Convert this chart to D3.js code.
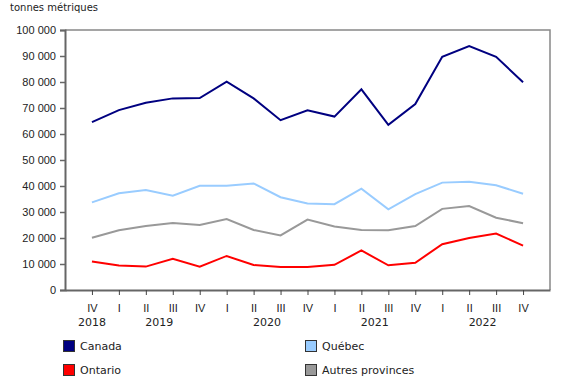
<!DOCTYPE html>
<html>
<head>
<meta charset="utf-8">
<script src="https://cdn.jsdelivr.net/npm/d3@7"></script>
<style>
  body { margin: 0; background: #fff; }
  svg { font-family: "DejaVu Sans", Verdana, sans-serif; }
</style>
</head>
<body>
<div id="chart"></div>
<script>
const quarters = ["IV", "I", "II", "III", "IV", "I", "II", "III", "IV", "I", "II", "III", "IV", "I", "II", "III", "IV"];
const years = [
  { label: "2018", from: 0, to: 0 },
  { label: "2019", from: 1, to: 4 },
  { label: "2020", from: 5, to: 8 },
  { label: "2021", from: 9, to: 12 },
  { label: "2022", from: 13, to: 16 }
];
const canada = [64600, 69200, 72000, 73700, 73800, 80100, 73700, 65300, 69100, 66700, 77200, 63500, 71500, 89700, 93800, 89700, 79900];
const quebec = [33700, 37200, 38500, 36300, 40100, 40100, 41000, 35700, 33300, 33000, 39000, 31000, 36900, 41300, 41600, 40300, 37000];
const ontario = [11000, 9400, 9000, 12000, 9000, 13100, 9600, 8800, 8800, 9700, 15200, 9500, 10500, 17600, 20000, 21700, 17100];
const autres = [20100, 23000, 24600, 25800, 25000, 27300, 23100, 21000, 27100, 24400, 23100, 23000, 24600, 31200, 32300, 27800, 25700];
const yTicks = d3.range(0, 100001, 10000);

const series = [
  { name: "Canada", values: canada, color: "#000080" },
  { name: "Québec", values: quebec, color: "#99ccff" },
  { name: "Ontario", values: ontario, color: "#ff0000" },
  { name: "Autres provinces", values: autres, color: "#999999" }
];

const width = 580, height = 385;
const plotLeft = 65, plotRight = 550, plotTop = 30, plotBottom = 290;

const svg = d3.select("#chart").append("svg")
  .attr("width", width)
  .attr("height", height);

const x = d3.scalePoint()
  .domain(d3.range(quarters.length))
  .range([plotLeft, plotRight])
  .padding(1);

const y = d3.scaleLinear()
  .domain([0, 100000])
  .range([plotBottom, plotTop]);

const fmt = v => d3.format(",")(v).replace(/,/g, " ");

// unit label
svg.append("text")
  .attr("x", 10)
  .attr("y", 11)
  .attr("font-size", 10)
  .attr("fill", "#222")
  .text("tonnes métriques");

// frame top / right
svg.append("path")
  .attr("d", `M${plotLeft},${plotTop}H${plotRight}V${plotBottom}`)
  .attr("fill", "none")
  .attr("stroke", "#888")
  .attr("stroke-width", 1.5);

// y axis
const yAxis = svg.append("g")
  .attr("transform", `translate(${plotLeft},0)`)
  .call(d3.axisLeft(y).tickValues(yTicks).tickFormat(fmt).tickSize(5).tickPadding(4));
yAxis.select(".domain").attr("stroke", "#666").attr("stroke-width", 2);
yAxis.selectAll(".tick line").attr("stroke", "#666").attr("stroke-width", 1.5);
yAxis.selectAll("text").attr("font-size", 11).attr("fill", "#222").attr("font-family", null);

// x axis
const xAxis = svg.append("g")
  .attr("transform", `translate(0,${plotBottom})`)
  .call(d3.axisBottom(x).tickFormat(i => quarters[i]).tickSize(5).tickSizeOuter(0).tickPadding(9));
xAxis.select(".domain").attr("stroke", "#666").attr("stroke-width", 2);
xAxis.selectAll(".tick line").attr("stroke", "#444").attr("stroke-width", 1);
xAxis.selectAll("text").attr("font-size", 11).attr("fill", "#222").attr("font-family", null);

svg.append("g").selectAll("text")
  .data(years)
  .join("text")
  .attr("x", d => (x(d.from) + x(d.to)) / 2)
  .attr("y", plotBottom + 36)
  .attr("text-anchor", "middle")
  .attr("font-size", 11)
  .attr("fill", "#222")
  .text(d => d.label);

// lines
const line = d3.line()
  .x((d, i) => x(i))
  .y(d => y(d));

svg.append("g").selectAll("path")
  .data(series)
  .join("path")
  .attr("d", d => line(d.values))
  .attr("fill", "none")
  .attr("stroke", d => d.color)
  .attr("stroke-width", 2);

// legend
const legendPos = [[63, 340], [305, 340], [63, 364], [305, 364]];
const lg = svg.append("g").selectAll("g")
  .data(series)
  .join("g")
  .attr("transform", (d, i) => `translate(${legendPos[i][0]},${legendPos[i][1]})`);
lg.append("rect")
  .attr("x", 0.5)
  .attr("y", 0.5)
  .attr("width", 11)
  .attr("height", 11)
  .attr("fill", d => d.color)
  .attr("stroke", "#333")
  .attr("stroke-width", 1);
lg.append("text")
  .attr("x", 17)
  .attr("y", 10)
  .attr("font-size", 11)
  .attr("fill", "#222")
  .text(d => d.name);
</script>
</body>
</html>
